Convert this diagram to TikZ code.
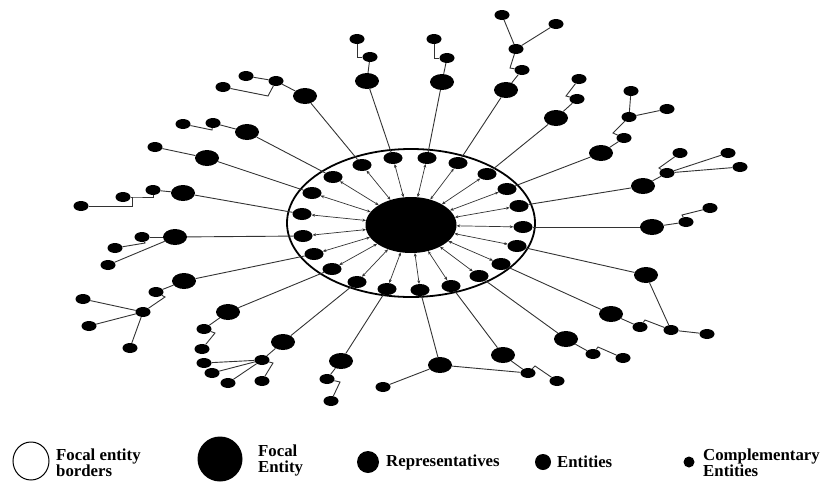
\documentclass[tikz,border=0pt]{standalone}
\usepackage{fontspec}
\setmainfont{Liberation Serif}
\usetikzlibrary{shapes.geometric,arrows.meta}
\begin{document}
\begin{tikzpicture}[x=1pt,y=-1pt,
 rep/.style={ellipse,fill=black,minimum width=24pt,minimum height=16pt,inner sep=0pt},
 ent/.style={ellipse,fill=black,minimum width=15pt,minimum height=10pt,inner sep=0pt},
 inn/.style={ellipse,fill=black,minimum width=19pt,minimum height=12pt,inner sep=0pt},
 link/.style={draw=black!80,line width=0.9pt},
 spoke/.style={draw=black!80,line width=0.7pt,{Stealth[length=3.5pt,width=3pt]}-{Stealth[length=3.5pt,width=3pt]}},
 lbl/.style={font=\bfseries\fontsize{16.8}{16}\selectfont,align=left,anchor=west,inner sep=0pt}]
\useasboundingbox (0,0) rectangle (823,483);

% ring and focal entity
\node[ellipse,draw,line width=1.8pt,minimum width=248pt,minimum height=148pt,inner sep=0pt] (ring) at (411,223) {};
\node[ellipse,fill=black,minimum width=91pt,minimum height=56pt,inner sep=0pt] (focal) at (411,225) {};

% inner representatives
\foreach \n/\x/\y in {1/393/158,2/427/158,3/458/163,4/487/174,5/507/189,6/519/206,7/523/227,
  8/517/246,9/501/264,10/479/276,11/451/286,12/420/290,13/387/289,14/357/282,15/332/269,
  16/314/254,17/303/236,18/302/214,19/312/193,20/333/177,21/362/165}
  \node[inn] (i\n) at (\x,\y) {};

% outer representatives
\foreach \n/\x/\y in {1/367/81,2/442/82,3/506/90,4/556/118,5/601/153,6/643/186,7/652/227,
  8/646/275,9/611/314,10/566/339,11/503/355,12/440/365,13/341/361,14/283/342,15/228/312,
  16/184/281,17/175/237,18/183/193,19/207/158,20/247/132,21/305/96}
  \node[rep] (r\n) at (\x,\y) {};

% entities and complementary entities
\foreach \n/\x/\y in {1a/370/57,1b/357/39,2a/447/58,2b/434/39,
  3a/522/70,3b/516/49,3c/502/15,3d/556/24,4a/577/99,4b/579/79,
  5a/624/138,5b/629/117,5c/631/91,5d/667/109,
  6a/667/173,6b/680/153,6c/728/153,6d/740/167,7a/686/222,7b/710/208,
  8a/671/330,8b/707/334,9a/640/327,10a/593/354,10b/623/358,
  11a/528/373,11b/557/381,12a/383/387,13a/327/379,13b/331/401,
  14a/262/360,14b/204/363,14c/212/373,14d/228/383,14e/262/381,
  15a/204/329,15b/202/349,16a/156/292,16b/143/312,16c/83/299,16d/89/326,16e/130/348,
  17a/142/237,17b/115/248,17c/108/265,18a/153/190,18b/123/197,18c/81/206,
  19a/155/147,20a/213/123,20b/183/124,21a/276/81,21b/246/76,21c/223/87}
  \node[ent] (e\n) at (\x,\y) {};
\coordinate (k18) at (132,197);

% spokes focal -> inner
\foreach \n in {1,...,21} \draw[spoke] (focal) -- (i\n);
% inner -> outer
\foreach \n in {1,...,21} \draw[link] (i\n) -- (r\n);

% branches
\draw[link] (r1) -- (e1a); \draw[link] (e1a) -| (e1b);
\draw[link] (r2) -- (e2a); \draw[link] (e2a) -| (e2b);
\draw[link] (r3) -- (e3a); \draw[link] (e3a) -- ++(-12,-2) -- (e3b);
\draw[link] (e3b) -- (e3c); \draw[link] (e3b) -- (e3d);
\draw[link] (r4) -- (e4a); \draw[link] (e4a) -- ++(-11,-3) -- (e4b);
\draw[link] (r5) -- (e5a); \draw[link] (e5a) -- ++(-11,-5) -- (e5b);
\draw[link] (e5b) -- (e5c); \draw[link] (e5b) -- (e5d);
\draw[link] (r6) -- (e6a); \draw[link] (e6a) -- ++(-8,-5) -- (e6b);
\draw[link] (e6a) -- (e6c); \draw[link] (e6a) -- (e6d);
\draw[link] (r7) -- (e7a); \draw[link] (e7a) -- ++(-4,-7) -- (e7b);
\draw[link] (r8) -- (e8a); \draw[link] (e8a) -- (e8b);
\draw[link] (r9) -- (e9a); \draw[link] (e9a) -- ++(5,-7) -- (e8a);
\draw[link] (r10) -- (e10a); \draw[link] (e10a) -- ++(5,-7) -- (e10b);
\draw[link] (r11) -- (e11a); \draw[link] (e11a) -- ++(7,-7) -- (e11b);
\draw[link] (r12) -- (e11a); \draw[link] (r12) -- (e12a);
\draw[link] (r13) -- (e13a); \draw[link] (e13a) -- ++(13,3) -- (e13b);
\draw[link] (r14) -- (e14a);
\draw[link] (e14a) -- (e14b); \draw[link] (e14a) -- (e14c); \draw[link] (e14a) -- (e14d);
\draw[link] (e14a) -- ++(11,3) -- (e14e);
\draw[link] (r15) -- (e15a); \draw[link] (e15a) -- ++(11,4) -- (e15b);
\draw[link] (r16) -- (e16a); \draw[link] (e16a) -- ++(9,5) -- (e16b);
\draw[link] (e16b) -- (e16c); \draw[link] (e16b) -- (e16d); \draw[link] (e16b) -- (e16e);
\draw[link] (r17) -- (e17a); \draw[link] (e17a) -- ++(3,6) -- (e17b);
\draw[link] (r17) -- (e17c);
\draw[link] (r18) -- (e18a); \draw[link] (e18a) |- (k18) -- (e18b);
\draw[link] (k18) |- (e18c);
\draw[link] (r19) -- (e19a);
\draw[link] (r20) -- (e20a); \draw[link] (e20a) -- ++(-1,7) -- (e20b);
\draw[link] (r21) -- (e21a); \draw[link] (e21a) -- (e21b);
\draw[link] (e21a) -- ++(-8,15) -- (e21c);

% legend
\node[ellipse,draw,line width=1pt,minimum width=36pt,minimum height=38pt,inner sep=0pt] (lg1) at (31,461) {};
\node[lbl] (lt1) at (56,463) {Focal entity\\borders};
\node[ellipse,fill=black,minimum width=45pt,minimum height=45pt,inner sep=0pt] (lg2) at (220,459) {};
\node[lbl] (lt2) at (258,460) {Focal\\Entity};
\node[ellipse,fill=black,minimum width=22pt,minimum height=22pt,inner sep=0pt] (lg3) at (368,462) {};
\node[lbl] (lt3) at (386,462) {Representatives};
\node[ellipse,fill=black,minimum width=16pt,minimum height=16pt,inner sep=0pt] (lg4) at (543,462) {};
\node[lbl] (lt4) at (557,462) {Entities};
\node[ellipse,fill=black,minimum width=11pt,minimum height=11pt,inner sep=0pt] (lg5) at (689,462) {};
\node[lbl] (lt5) at (703,463) {Complementary\\Entities};
\end{tikzpicture}
\end{document}
